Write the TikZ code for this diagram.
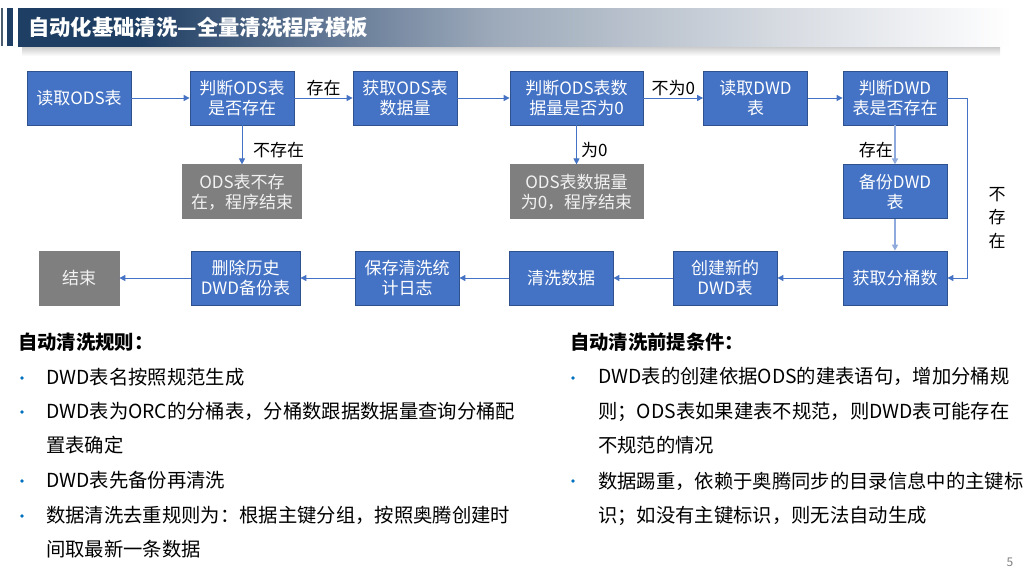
\documentclass[tikz,border=0pt]{standalone}
\usepackage{fontspec}
\setmainfont{Noto Sans CJK SC}
\usepackage{xcolor}
\usepackage{tikz}
\usetikzlibrary{arrows.meta, positioning}
\definecolor{boxblue}{HTML}{4472C4}
\definecolor{boxedge}{HTML}{2F528F}
\definecolor{endgray}{HTML}{7F7F7F}
\definecolor{linklight}{HTML}{8FAADC}
\definecolor{bulletblue}{HTML}{0070C0}
\definecolor{titlenavy}{HTML}{1F3E63}
\definecolor{titlemid}{HTML}{5E7492}
\definecolor{titlegray}{HTML}{9DAABA}
\definecolor{titlelight}{HTML}{D9DDE3}
\pgfdeclarehorizontalshading{titlefade}{100bp}{color(0bp)=(titlenavy); color(31bp)=(titlenavy); color(40bp)=(titlemid); color(49bp)=(titlegray); color(64bp)=(titlelight); color(75bp)=(white); color(100bp)=(white)}

\begin{document}
\begin{tikzpicture}[
    x=0.75pt, y=-0.75pt,
    procbox/.style={rectangle, draw=boxedge, line width=0.6pt, fill=boxblue, text=white, minimum width=78pt, minimum height=40.5pt, inner sep=1pt, align=center, font=\fontsize{12.75}{15}\selectfont},
    stopbox/.style={procbox, draw=endgray, fill=endgray, text=white!95!black},
    arrow/.style={-{Triangle[length=4.5pt, width=4.5pt]}, line width=0.75pt, color=boxblue},
    softarrow/.style={arrow, color=linklight, line width=1.3pt},
    cond/.style={text=black, font=\fontsize{12.75}{15}\selectfont, inner sep=1pt},
    rulehead/.style={anchor=base west, font=\fontsize{14.5}{16}\selectfont\bfseries, inner sep=0pt},
    ruleitem/.style={anchor=base west, align=left, font=\fontsize{14.5}{25.8}\selectfont, inner sep=0pt}
]
\useasboundingbox (0,0) rectangle (1024,576);
\fill[white] (0,0) rectangle (1024,576);

% title bar
\fill[titlenavy!55!gray] (0.5,8) rectangle (2.5,46);
\fill[titlenavy] (7,8) rectangle (13,46);
\shade[top color=black!22, bottom color=white] (22,46) rectangle (1000,56);
\shade[shading=titlefade] (18,8) rectangle (1012,46);
\node[anchor=west, text=white, font=\fontsize{16}{18}\selectfont\bfseries, inner sep=0pt] (title) at (28,27) {自动化基础清洗—全量清洗程序模板};

% flow, first row
\node[procbox] (readods) at (79,98) {读取ODS表};
\node[procbox] (judgeods) at (242,98) {判断ODS表\\是否存在};
\node[procbox] (getcount) at (405,98) {获取ODS表\\数据量};
\node[procbox, minimum width=99.75pt] (judgezero) at (576.5,98) {判断ODS表数\\据量是否为0};
\node[procbox] (readdwd) at (755.5,98) {读取DWD\\表};
\node[procbox] (judgedwd) at (895,98) {判断DWD\\表是否存在};

% second row
\node[stopbox, minimum width=89.25pt, below=29.25pt of judgeods] (odsnone) {ODS表不存\\在，程序结束};
\node[stopbox, minimum width=99.75pt, below=29.25pt of judgezero] (zeroend) {ODS表数据量\\为0，程序结束};
\node[procbox, below=29.25pt of judgedwd] (backup) {备份DWD\\表};

% third row
\node[stopbox, minimum width=60pt] (endnode) at (79,278) {结束};
\node[procbox, minimum width=81.75pt] (delhist) at (245.5,278) {删除历史\\DWD备份表};
\node[procbox] (savelog) at (407,278) {保存清洗统\\计日志};
\node[procbox] (clean) at (561,278) {清洗数据};
\node[procbox] (createdwd) at (725,278) {创建新的\\DWD表};
\node[procbox] (getbucket) at (895,278) {获取分桶数};

\draw[arrow] (readods) -- (judgeods);
\draw[arrow] (judgeods) -- node[cond, above] {存在} (getcount);
\draw[arrow] (getcount) -- (judgezero);
\draw[arrow] (judgezero) -- node[cond, above] {不为0} (readdwd);
\draw[arrow] (readdwd) -- (judgedwd);
\draw[arrow] (judgeods) -- node[cond, right, pos=0.64, xshift=7pt] {不存在} (odsnone);
\draw[arrow] (judgezero) -- node[cond, right, pos=0.64, xshift=2pt] {为0} (zeroend);
\draw[softarrow] (judgedwd) -- node[cond, left, pos=0.64] {存在} (backup);
\draw[softarrow] (backup) -- (getbucket);
\draw[arrow] (judgedwd.east) -- ++(20,0) |- (getbucket.east);
\node[cond, align=center, font=\fontsize{12.75}{17.6}\selectfont] (nodwd) at (997,218) {不\\存\\在};
\draw[arrow] (getbucket) -- (createdwd);
\draw[arrow] (createdwd) -- (clean);
\draw[arrow] (clean) -- (savelog);
\draw[arrow] (savelog) -- (delhist);
\draw[arrow] (delhist) -- (endnode);

% rules below the flow (base = last line)
\node[rulehead] (rulestitle) at (18,349) {自动清洗规则：};
\node[ruleitem] (rule1) at (46,384.5) {DWD表名按照规范生成};
\node[ruleitem] (rule2) at (46,452.5) {DWD表为ORC的分桶表，分桶数跟据数据量查询分桶配\\置表确定};
\node[ruleitem] (rule3) at (46,487.5) {DWD表先备份再清洗};
\node[ruleitem] (rule4) at (46,556.5) {数据清洗去重规则为：根据主键分组，按照奥腾创建时\\间取最新一条数据};
\foreach \y in {378,412,481,516}
    \fill[bulletblue] (22,\y) circle (1.8);

\node[rulehead] (premtitle) at (570,349) {自动清洗前提条件：};
\node[ruleitem] (prem1) at (598,452.5) {DWD表的创建依据ODS的建表语句，增加分桶规\\则；ODS表如果建表不规范，则DWD表可能存在\\不规范的情况};
\node[ruleitem] (prem2) at (598,522.5) {数据踢重，依赖于奥腾同步的目录信息中的主键标\\识；如没有主键标识，则无法自动生成};
\foreach \y in {378,481}
    \fill[bulletblue] (573,\y) circle (1.8);

\node[text=gray, font=\fontsize{9}{10}\selectfont] (pagenum) at (1010,562) {5};
\end{tikzpicture}
\end{document}
